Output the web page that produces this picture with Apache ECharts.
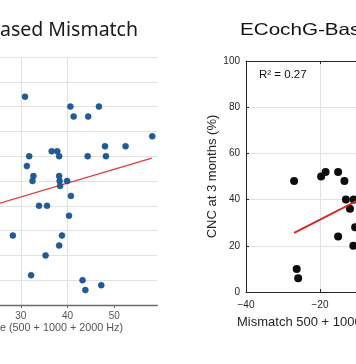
<!DOCTYPE html>
<html>
<head>
<meta charset="utf-8">
<script src="https://cdn.jsdelivr.net/npm/echarts@6/dist/echarts.min.js"></script>
<style>html,body{margin:0;padding:0;background:#fff}#c{width:356px;height:364px}</style>
</head>
<body>
<div id="c"></div>
<script>
// Left panel (audiometric-based mismatch): x = PTA-type value, y = CNC %
const leftX = [30.9, 40.6, 46.7, 41.3, 44.4, 58.1, 48.0, 52.4, 36.6, 37.8, 31.8, 38.2, 44.3, 48.2, 31.3, 32.7, 38.2, 32.5, 38.3, 39.9, 38.4, 40.7, 33.9, 35.6, 40.3, 28.3, 38.8, 38.2, 35.3, 32.2, 43.2, 43.8, 47.2];
const leftY = [84, 80, 80, 76, 76, 68, 64, 64, 62, 62, 60, 60, 60, 60, 56, 52, 52, 50, 50, 50, 48, 44, 40, 40, 36, 28, 28, 24, 20, 12, 10, 6, 8];
const leftFitX = [22, 58];
const leftFitY = [39.1, 59.2];
const leftXTicks = [20, 30, 40, 50];

// Right panel (ECochG-based mismatch)
const rightX = [-27.0, -19.7, -18.5, -15.1, -13.4, -13.0, -10.9, -11.9, -10.5, -15.1, -11.0, -26.3, -25.9];
const rightY = [48, 50, 52, 52, 48, 40, 40, 36, 28, 24, 20, 10, 6];
const rightFitX = [-27, -2];
const rightFitY = [25.6, 46.1];
const rightXTicks = [-40, -20, 0];
const rightYTicks = [0, 20, 40, 60, 80, 100];

const leftTitle = 'ased Mismatch';
const leftXName = 'e (500 + 1000 + 2000 Hz)';
const rightTitle = 'ECochG-Bas';
const rightXName = 'Mismatch 500 + 1000';
const rightYName = 'CNC at 3 months (%)';
const r2Text = 'R\u00B2 = 0.27';

const zip = (a, b) => a.map((v, i) => [v, b[i]]);
const chart = echarts.init(document.getElementById('c'), null, {renderer: 'canvas'});
const RF = 'Liberation Sans, Arial, sans-serif';
const dark = '#262626';

chart.setOption({
  animation: false,
  backgroundColor: '#ffffff',
  grid: [
    {left: -26, top: 57, width: 183.4, height: 248, outerBoundsMode: 'none', containLabel: false},
    {left: 246, top: 61, width: 148, height: 231, outerBoundsMode: 'none', containLabel: false}
  ],
  xAxis: [
    {
      gridIndex: 0, type: 'value', min: 20, max: 59.2, interval: 10,
      axisLine: {show: true, lineStyle: {color: '#6b6b6b', width: 1.3}},
      axisTick: {show: true, customValues: leftXTicks, length: 3, lineStyle: {color: '#6b6b6b'}},
      axisLabel: {customValues: leftXTicks, fontSize: 10, color: '#555', margin: 6, fontFamily: RF,
        formatter: v => (v % 10 === 0 ? String(v) : '')},
      splitLine: {show: true, showMaxLine: false, lineStyle: {color: '#e2e2e2', width: 1}}
    },
    {
      gridIndex: 1, type: 'value', min: -40, max: 0, interval: 20, position: 'bottom',
      axisLine: {show: true, onZero: false, lineStyle: {color: dark, width: 1}},
      axisTick: {show: true, inside: true, length: 3, lineStyle: {color: dark}},
      axisLabel: {customValues: rightXTicks, fontSize: 10, color: dark, margin: 8, fontFamily: RF,
        formatter: v => String(v).replace('-', '\u2212')},
      splitLine: {show: true, lineStyle: {color: '#e2e2e2', width: 1}}
    },
    {
      gridIndex: 1, type: 'value', min: -40, max: 0, interval: 20, position: 'top',
      axisLine: {show: true, onZero: false, lineStyle: {color: dark, width: 1}},
      axisTick: {show: true, inside: true, length: 3, lineStyle: {color: dark}},
      axisLabel: {show: false},
      splitLine: {show: false}
    }
  ],
  yAxis: [
    {
      gridIndex: 0, type: 'value', min: 0, max: 100, interval: 10,
      axisLine: {show: false}, axisTick: {show: false}, axisLabel: {show: false},
      splitLine: {show: true, lineStyle: {color: '#e2e2e2', width: 1}}
    },
    {
      gridIndex: 1, type: 'value', min: 0, max: 100, interval: 20,
      axisLine: {show: true, onZero: false, lineStyle: {color: dark, width: 1}},
      axisTick: {show: true, inside: true, length: 3, lineStyle: {color: dark}},
      axisLabel: {customValues: rightYTicks, fontSize: 10, color: dark, margin: 6, fontFamily: RF},
      splitLine: {show: true, lineStyle: {color: '#e2e2e2', width: 1}},
      name: rightYName, nameLocation: 'middle', nameGap: 27,
      nameTextStyle: {fontSize: 13, color: dark, fontFamily: RF}
    }
  ],
  series: [
    {
      type: 'line', xAxisIndex: 0, yAxisIndex: 0, data: zip(leftFitX, leftFitY),
      symbol: 'none', lineStyle: {color: '#e23a3a', width: 1.3}, z: 2
    },
    {
      type: 'scatter', xAxisIndex: 0, yAxisIndex: 0, data: zip(leftX, leftY),
      symbolSize: 6, itemStyle: {color: '#1f5c99', borderColor: '#184b80', borderWidth: 0.5, opacity: 1}, z: 3
    },
    {
      type: 'scatter', xAxisIndex: 1, yAxisIndex: 1, data: zip(rightX, rightY),
      symbolSize: 8, itemStyle: {color: '#0d0d0d', opacity: 1}, z: 3
    },
    {
      type: 'line', xAxisIndex: 1, yAxisIndex: 1, data: zip(rightFitX, rightFitY),
      symbol: 'none', lineStyle: {color: '#de2020', width: 1.8}, z: 4
    }
  ],
  graphic: [
    {type: 'text', x: 0, y: 30, style: {text: leftTitle, font: '19.5px "Noto Sans", "Open Sans", sans-serif', fill: '#1a1a1a', verticalAlign: 'middle', align: 'left'}},
    {type: 'text', x: 240, y: 30, scaleX: 1.25, style: {text: rightTitle, font: '16.5px "Liberation Sans", Arial, sans-serif', fill: '#111', verticalAlign: 'middle', align: 'left'}},
    {type: 'text', x: 0, y: 328.5, style: {text: leftXName, font: '10.8px "Liberation Sans", Arial, sans-serif', fill: '#555', verticalAlign: 'middle', align: 'left'}},
    {type: 'text', x: 237, y: 322.5, style: {text: rightXName, font: '13px "Liberation Sans", Arial, sans-serif', fill: dark, verticalAlign: 'middle', align: 'left'}},
    {type: 'text', x: 259, y: 75, style: {text: r2Text, font: '11.5px "Liberation Sans", Arial, sans-serif', fill: '#111', verticalAlign: 'middle', align: 'left'}}
  ]
});
</script>
</body>
</html>
